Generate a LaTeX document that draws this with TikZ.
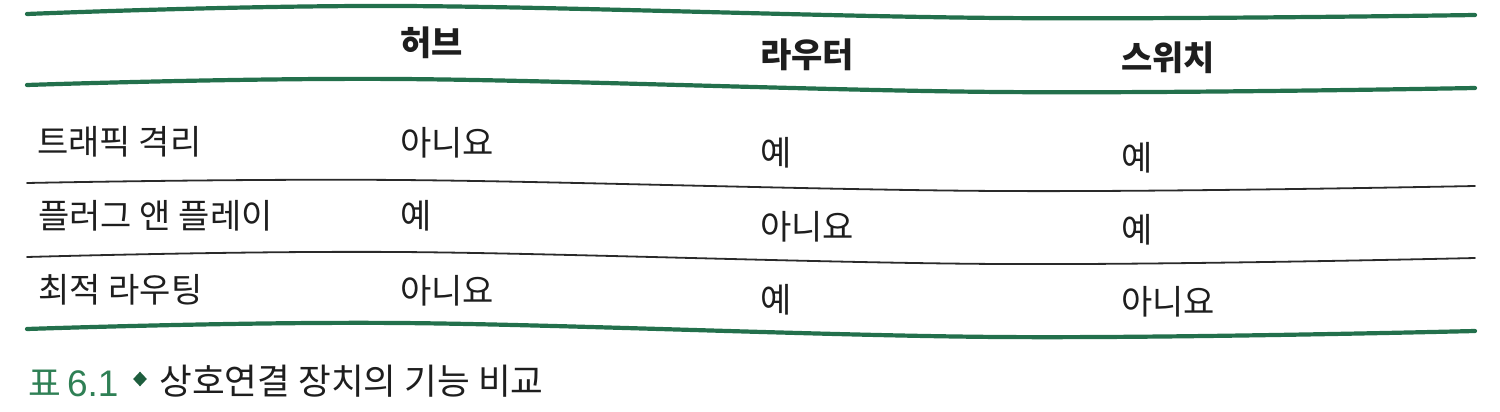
\documentclass[tikz,border=0pt]{standalone}
\usepackage{fontspec}
\setmainfont{Noto Sans CJK KR}
\newfontfamily\capdigits{Liberation Sans}
\usetikzlibrary{shapes.geometric}
\definecolor{rulegreen}{HTML}{23704C}
\definecolor{capgreen}{HTML}{2F8055}
\definecolor{diagreen}{HTML}{1E5E3E}
\definecolor{thinrule}{HTML}{2A2A2A}
\definecolor{txt}{HTML}{1E1E1E}
\begin{document}
\begin{tikzpicture}[x=0.5pt,y=-0.5pt,
  greenrule/.style={draw=rulegreen,line width=2.1pt,line cap=round},
  blackrule/.style={draw=thinrule,line width=0.9pt,line cap=round},
  cell/.style={anchor=west,inner sep=0pt,text=txt,font=\fontsize{17}{20}\selectfont},
  head/.style={cell,font=\fontsize{17}{20}\selectfont\bfseries},
  captxt/.style={anchor=west,inner sep=0pt,font=\fontsize{17.8}{21}\selectfont}]
\useasboundingbox[fill=white] (0,0) rectangle (1500,412);
% rules
\draw[greenrule] plot[smooth,tension=0.6] coordinates {(27,14) (400,6) (1000,18) (1475,15)};
\draw[greenrule] plot[smooth,tension=0.6] coordinates {(27,85) (400,79) (1000,92) (1475,88)};
\draw[blackrule] plot[smooth,tension=0.6] coordinates {(27,183) (400,180) (1000,191) (1475,186)};
\draw[blackrule] plot[smooth,tension=0.6] coordinates {(27,257) (400,252) (1000,264) (1475,258)};
\draw[greenrule] plot[smooth,tension=0.6] coordinates {(27,329) (400,323) (1000,337) (1475,331)};
% header
\node[head] (hhub) at (400,43) {허브};
\node[head] (hrouter) at (760,55) {라우터};
\node[head] (hswitch) at (1121,58) {스위치};
% row 1
\node[cell] (r1) at (37,142) {트래픽 격리};
\node[cell] (r1a) at (400,143) {아니요};
\node[cell] (r1b) at (760,153) {예};
\node[cell] (r1c) at (1121,158) {예};
% row 2
\node[cell] (r2) at (38,216) {플러그 앤 플레이};
\node[cell] (r2a) at (400,216) {예};
\node[cell] (r2b) at (760,227) {아니요};
\node[cell] (r2c) at (1121,230) {예};
% row 3
\node[cell] (r3) at (38,290) {최적 라우팅};
\node[cell] (r3a) at (400,291) {아니요};
\node[cell] (r3b) at (760,300) {예};
\node[cell] (r3c) at (1121,302) {아니요};
% caption
\node[captxt,text=capgreen] (capnum) at (28,383) {표\,{\capdigits\fontsize{18.5}{21}\selectfont 6.1}};
\node[diamond,fill=diagreen,inner sep=0pt,minimum width=7pt,minimum height=7.5pt] (capdia) at (140,379) {};
\node[captxt,text=txt] (captext) at (159,381) {상호연결 장치의 기능 비교};
\end{tikzpicture}
\end{document}
